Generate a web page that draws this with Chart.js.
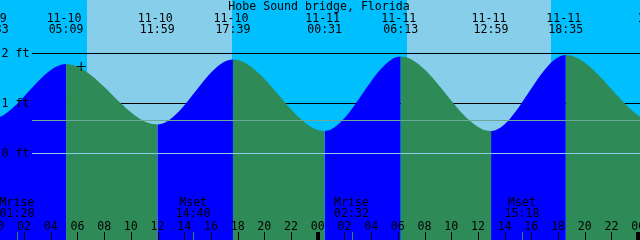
<!DOCTYPE html>
<html>
<head>
<meta charset="utf-8">
<script src="https://cdn.jsdelivr.net/npm/chart.js@4/dist/chart.umd.min.js"></script>
<style>
  html, body { margin: 0; padding: 0; background: #00bfff; }
  canvas { display: block; }
</style>
</head>
<body>
<canvas id="js-tideChart" width="640" height="240"></canvas>
<script>
'use strict'

const title = 'Hobe Sound bridge, Florida'

// high / low tides (first and last are off screen, they only shape the edges)
const tideDates = ['11-09', '11-09', '11-10', '11-10', '11-10', '11-11', '11-11', '11-11', '11-11', '11-12', '11-12']
const tideTimes = ['16:50', '23:33', '05:09', '11:59', '17:39', '00:31', '06:13', '12:59', '18:35', '01:25', '07:05']
const tideFeet = [1.70, 0.68, 1.78, 0.57, 1.87, 0.44, 1.93, 0.44, 1.96, 0.60, 1.95]

// sunrise / sunset
const sunDates = ['11-10', '11-10', '11-11', '11-11']
const sunTimes = ['06:41', '17:34', '06:39', '17:30']

// moonrise / moonset
const moonKinds = ['Mrise', 'Mset', 'Mrise', 'Mset']
const moonDates = ['11-10', '11-10', '11-11', '11-11']
const moonTimes = ['01:28', '14:40', '02:32', '15:18']

// "now" mark
const nowDate = '11-10'
const nowTime = '06:17'
const nowFeet = 1.73

const levelFeet = [2, 1, 0]
const levelLabels = ['2 ft', '1 ft', '0 ft']
const meanFeet = 0.65

const tickHours = [0, 2, 4, 6, 8, 10, 12, 14, 16, 18, 20, 22, 24, 26, 28, 30, 32, 34, 36, 38, 40, 42, 44, 46, 48]

const viewStart = 0.2
const viewEnd = 48.14
const feetMin = -1.74
const feetMax = 3.06

const colors = {
  night: '#00bfff',
  day: '#87ceeb',
  rising: '#0000ff',
  falling: '#2e8b57',
  text: '#000000',
  mean: '#6aa898',
  datum: '#8ccde6',
  moonTick: '#2e8b57'
}
const font = '11.6px "DejaVu Sans Mono", monospace'

// hours counted from 11-10 00:00
const toHours = (date, time) => {
  const day = Number(date.slice(3)) - 10
  const [h, m] = time.split(':').map(Number)
  return day * 24 + h + m / 60
}

const tideHours = tideDates.map((d, i) => toHours(d, tideTimes[i]))
const sunHours = sunDates.map((d, i) => toHours(d, sunTimes[i]))
const moonHours = moonDates.map((d, i) => toHours(d, moonTimes[i]))

const crisp = v => Math.round(v) + 0.5

const backdropPlugin = {
  id: 'backdrop',
  beforeDatasetsDraw(chart) {
    const {ctx, chartArea: area, scales: {x, y}} = chart
    ctx.save()
    ctx.fillStyle = colors.night
    ctx.fillRect(area.left, area.top, area.width, area.height)
    ctx.fillStyle = colors.day
    for (let i = 0; i < sunHours.length; i += 2) {
      const x0 = x.getPixelForValue(sunHours[i])
      const x1 = x.getPixelForValue(sunHours[i + 1])
      ctx.fillRect(Math.round(x0), area.top, Math.round(x1) - Math.round(x0), area.height)
    }
    // 2 ft and 1 ft lines sit behind the water
    ctx.strokeStyle = colors.text
    ctx.lineWidth = 1
    levelFeet.filter(f => f > 0).forEach(f => {
      const py = crisp(y.getPixelForValue(f))
      ctx.beginPath()
      ctx.moveTo(32, py)
      ctx.lineTo(area.right, py)
      ctx.stroke()
    })
    ctx.restore()
  }
}

const labelsPlugin = {
  id: 'labels',
  afterDatasetsDraw(chart) {
    const {ctx, chartArea: area, scales: {x, y}} = chart
    ctx.save()
    ctx.lineWidth = 1

    // datum and mean level over the water
    const lines = [[meanFeet, colors.mean], [0, colors.datum]]
    lines.forEach(([f, c]) => {
      const py = crisp(y.getPixelForValue(f))
      ctx.strokeStyle = c
      ctx.beginPath()
      ctx.moveTo(32, py)
      ctx.lineTo(area.right, py)
      ctx.stroke()
    })

    ctx.font = font
    ctx.fillStyle = colors.text
    ctx.textBaseline = 'alphabetic'

    ctx.textAlign = 'left'
    levelFeet.forEach((f, i) => {
      ctx.fillText(levelLabels[i], 1.5, y.getPixelForValue(f) + 3.5)
    })

    ctx.textAlign = 'center'
    ctx.fillText(title, 319, 9.5)

    tideHours.forEach((h, i) => {
      const px = x.getPixelForValue(h)
      ctx.fillText(tideDates[i], px - 2, 21.5)
      ctx.fillText(tideTimes[i], px, 33)
    })

    moonHours.forEach((h, i) => {
      const px = x.getPixelForValue(h)
      ctx.fillText(moonKinds[i], px, 206)
      ctx.fillText(moonTimes[i], px, 217)
    })

    tickHours.forEach(h => {
      const px = x.getPixelForValue(h)
      const label = String(h % 24).padStart(2, '0')
      ctx.fillText(label, px, 230)
      if (h % 24 === 0) {
        ctx.fillRect(Math.round(px) - 2, 232, 4, 8)
      } else {
        ctx.strokeStyle = colors.text
        ctx.beginPath()
        ctx.moveTo(crisp(px), 232)
        ctx.lineTo(crisp(px), 240)
        ctx.stroke()
      }
    })

    ctx.strokeStyle = colors.moonTick
    moonHours.forEach(h => {
      const px = crisp(x.getPixelForValue(h))
      ctx.beginPath()
      ctx.moveTo(px, 232)
      ctx.lineTo(px, 240)
      ctx.stroke()
    })
    ctx.restore()
  }
}

const data = {
  datasets: [
    {
      label: 'now',
      data: [{x: toHours(nowDate, nowTime), y: nowFeet}],
      showLine: false,
      pointStyle: 'cross',
      pointRadius: 4.5,
      pointHoverRadius: 4.5,
      borderColor: colors.text,
      borderWidth: 1,
      order: 0
    },
    {
      label: 'tide',
      data: tideHours.map((h, i) => ({x: h, y: tideFeet[i]})),
      fill: 'start',
      borderColor: 'transparent',
      borderWidth: 0,
      pointRadius: 0,
      pointHoverRadius: 0,
      cubicInterpolationMode: 'monotone',
      backgroundColor: colors.rising,
      segment: {
        // rising water blue, falling water green
        backgroundColor: c => c.p1.parsed.y > c.p0.parsed.y ? colors.rising : colors.falling
      },
      order: 1
    }
  ]
}

const config = {
  type: 'line',
  data: data,
  options: {
    responsive: false,
    animation: false,
    events: [],
    layout: { padding: 0, autoPadding: false },
    plugins: {
      legend: { display: false },
      tooltip: { enabled: false }
    },
    scales: {
      x: { type: 'linear', min: viewStart, max: viewEnd, display: false },
      y: { type: 'linear', min: feetMin, max: feetMax, display: false }
    }
  },
  plugins: [backdropPlugin, labelsPlugin]
}

new Chart(document.getElementById('js-tideChart'), config)
</script>
</body>
</html>
